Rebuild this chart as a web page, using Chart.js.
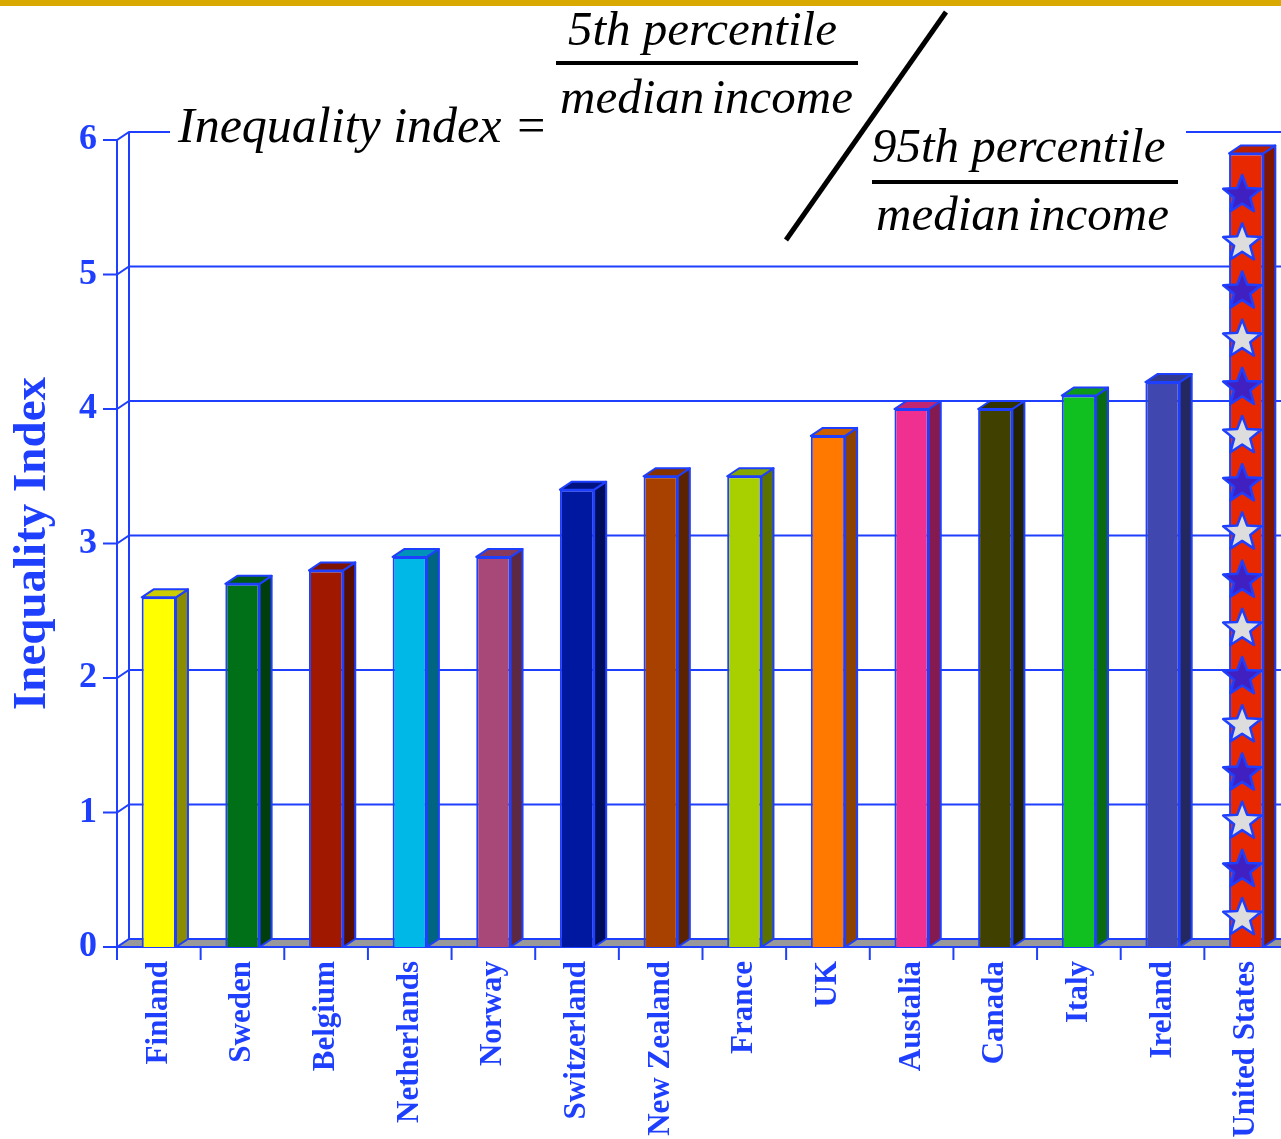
<!DOCTYPE html>
<html><head><meta charset="utf-8">
<script src="https://cdn.jsdelivr.net/npm/chart.js@4"></script>
<style>
html,body{margin:0;padding:0;background:#fff;overflow:hidden;width:1281px;height:1139px;}
#wrap{position:absolute;left:0;top:0;width:1300px;height:1139px;}
.band{position:absolute;left:0;top:0;width:1281px;height:6px;background:#D9A900;z-index:5}
.mask{position:absolute;left:170px;top:124px;width:1016px;height:16px;background:#fff;z-index:2}
.t{position:absolute;font-family:"Liberation Serif","Times New Roman",serif;font-style:italic;color:#000;z-index:3;white-space:nowrap;line-height:1}
.fl{position:absolute;height:4px;background:#000;z-index:3}
svg{position:absolute;left:0;top:0;z-index:4}
</style></head>
<body>
<div id="wrap"><canvas id="c"></canvas></div>
<div class="band"></div>
<div class="mask"></div>
<div class="t" style="left:178px;top:100px;font-size:50px">Inequality index =</div>
<div class="t" style="left:568px;top:4px;font-size:49px">5th percentile</div>
<div class="fl" style="left:556px;top:61px;width:302px"></div>
<div class="t" style="left:560px;top:72px;font-size:49px;word-spacing:-5px">median income</div>
<div class="t" style="left:872px;top:121px;font-size:49px">95th percentile</div>
<div class="fl" style="left:872px;top:180px;width:306px"></div>
<div class="t" style="left:876px;top:189px;font-size:49px;word-spacing:-5px">median income</div>
<svg width="1281" height="260"><line x1="946" y1="12" x2="786" y2="240" stroke="#000" stroke-width="5"/></svg>
<script>
const categories = ['Finland','Sweden','Belgium','Netherlands','Norway','Switzerland','New Zealand','France','UK','Austalia','Canada','Italy','Ireland','United States'];
const values = [2.6,2.7,2.8,2.9,2.9,3.4,3.5,3.5,3.8,4.0,4.0,4.1,4.2,5.9];
const yTicks = [0,1,2,3,4,5,6];
const barColors = ['#FFFF00','#007018','#A01800','#00B8E8','#A84878','#0018A0','#A84000','#A8D000','#FF7800','#F03090','#404000','#10C020','#4048B0','#E82800'];
const starredBars = ['United States'];

const BLUE = '#1f3fff', DX = 12, DY = 8;
function shade(hex, f){
  const n = parseInt(hex.slice(1),16);
  const r = Math.round(((n>>16)&255)*f), g = Math.round(((n>>8)&255)*f), b = Math.round((n&255)*f);
  return 'rgb('+r+','+g+','+b+')';
}
function star(ctx, cx, cy, R, r, fill){
  ctx.beginPath();
  for(let k=0;k<10;k++){
    const rad = k%2===0 ? R : r;
    const ang = -Math.PI/2 + k*Math.PI/5;
    const px = cx + rad*Math.cos(ang), py = cy + rad*Math.sin(ang);
    if(k===0) ctx.moveTo(px,py); else ctx.lineTo(px,py);
  }
  ctx.closePath();
  ctx.fillStyle = fill; ctx.fill();
  ctx.strokeStyle = BLUE; ctx.lineWidth = 2.5; ctx.stroke();
}

const walls = {
  id:'walls',
  beforeDatasetsDraw(chart){
    const {ctx, chartArea:a, scales:{x,y}} = chart;
    const right = chart.width;
    const y0 = y.getPixelForValue(0);
    const yt = y.getPixelForValue(yTicks[yTicks.length-1]);
    ctx.save();
    ctx.fillStyle = '#999999';
    ctx.beginPath(); ctx.moveTo(a.left,y0); ctx.lineTo(right,y0); ctx.lineTo(right,y0-DY); ctx.lineTo(a.left+DX,y0-DY); ctx.closePath(); ctx.fill();
    ctx.strokeStyle = BLUE; ctx.lineWidth = 2;
    yTicks.forEach(v=>{
      const py = y.getPixelForValue(v);
      ctx.beginPath(); ctx.moveTo(a.left-14,py); ctx.lineTo(a.left,py); ctx.lineTo(a.left+DX,py-DY); ctx.lineTo(right,py-DY); ctx.stroke();
    });
    ctx.beginPath();
    ctx.moveTo(a.left,yt); ctx.lineTo(a.left,y0);
    ctx.moveTo(a.left+DX,yt-DY); ctx.lineTo(a.left+DX,y0-DY);
    ctx.moveTo(a.left-14,y0); ctx.lineTo(right,y0);
    ctx.stroke();
    const n = categories.length, cw = (a.right-a.left)/n;
    for(let i=0;i<=n;i++){
      const px = a.left + i*cw;
      ctx.beginPath(); ctx.moveTo(px,y0); ctx.lineTo(px,y0+13); ctx.stroke();
    }
    ctx.restore();
  }
};

const faces = {
  id:'faces',
  afterDatasetsDraw(chart){
    const ctx = chart.ctx;
    const meta = chart.getDatasetMeta(0);
    meta.data.forEach((el,i)=>{
      const {x,y,width,base} = el.getProps(['x','y','width','base'],true);
      const l = x-width/2, r = x+width/2;
      ctx.save();
      ctx.lineJoin = 'round';
      if(starredBars.includes(categories[i])){
        const step = 48.2;
        let k = 0;
        for(let cy = base-29; cy-18 > y; cy -= step, k++){
          star(ctx, x-4, cy, 20, 8.5, k%2===0 ? '#DDDDDD' : '#4020C0');
        }
      }
      ctx.strokeStyle = BLUE; ctx.lineWidth = 2;
      ctx.fillStyle = shade(barColors[i],0.55);
      ctx.beginPath(); ctx.moveTo(r,y); ctx.lineTo(r+DX,y-DY); ctx.lineTo(r+DX,base-DY); ctx.lineTo(r,base); ctx.closePath(); ctx.fill(); ctx.stroke();
      ctx.fillStyle = shade(barColors[i],0.8);
      ctx.beginPath(); ctx.moveTo(l,y); ctx.lineTo(l+DX,y-DY); ctx.lineTo(r+DX,y-DY); ctx.lineTo(r,y); ctx.closePath(); ctx.fill(); ctx.stroke();
      ctx.restore();
    });
  }
};

new Chart(document.getElementById('c'), {
  type:'bar',
  data:{
    labels: categories,
    datasets:[{
      data: values,
      backgroundColor: barColors,
      borderColor: BLUE,
      borderWidth: 2,
      barPercentage: 0.41,
      categoryPercentage: 1.0
    }]
  },
  options:{
    responsive:true, maintainAspectRatio:false, animation:false,
    layout:{padding:{left:0,right:12,top:140,bottom:0}},
    plugins:{legend:{display:false},tooltip:{enabled:false}},
    scales:{
      x:{
        grid:{display:false,drawTicks:false}, border:{display:false},
        ticks:{autoSkip:false,maxRotation:90,minRotation:90,padding:14,color:BLUE,
               font:{family:'Liberation Serif',weight:'bold',size:31}},
        afterFit(s){ s.height = 192; }
      },
      y:{
        min:0, max:6,
        grid:{display:false,drawTicks:false}, border:{display:false},
        afterBuildTicks(s){ s.ticks = yTicks.map(v=>({value:v})); },
        ticks:{padding:20,color:BLUE,font:{family:'Liberation Serif',weight:'bold',size:36}},
        title:{display:true,text:'Inequality Index',color:BLUE,
               font:{family:'Liberation Serif',weight:'bold',size:47},padding:{top:5,bottom:0}},
        afterFit(s){ s.width = 117; }
      }
    }
  },
  plugins:[walls, faces]
});
</script>
</body></html>
